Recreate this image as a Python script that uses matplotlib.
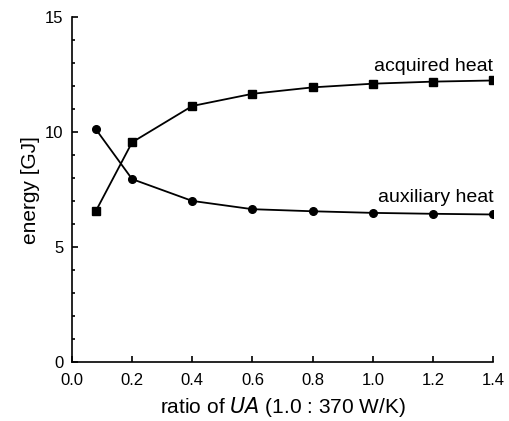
import numpy as np
import matplotlib
matplotlib.use("Agg")
import matplotlib.pyplot as plt
from matplotlib.ticker import MultipleLocator

plt.rcParams['font.family'] = ['Liberation Sans', 'DejaVu Sans']
plt.rcParams['xtick.direction'] = 'in'
plt.rcParams['ytick.direction'] = 'in'

# data
ua_ratio = [0.08, 0.2, 0.4, 0.6, 0.8, 1.0, 1.2, 1.4]
acquired_heat = [6.58, 9.56, 11.14, 11.67, 11.95, 12.11, 12.20, 12.25]
auxiliary_heat = [10.12, 7.96, 7.01, 6.65, 6.56, 6.49, 6.45, 6.42]

fig = plt.figure(figsize=(5.10, 4.21), dpi=100)
ax = fig.add_axes([0.141, 0.140, 0.826, 0.819])

ax.plot(ua_ratio, acquired_heat, color="black", linewidth=1.3,
        marker="s", markersize=5.5)
ax.plot(ua_ratio, auxiliary_heat, color="black", linewidth=1.3,
        marker="o", markersize=5.5)

ax.text(1.4, 12.5, "acquired heat", ha="right", va="bottom", fontsize=14)
ax.text(1.4, 6.8, "auxiliary heat", ha="right", va="bottom", fontsize=14)

ax.set_xlim(0.0, 1.4)
ax.set_ylim(0, 15)
ax.xaxis.set_major_locator(MultipleLocator(0.2))
ax.yaxis.set_major_locator(MultipleLocator(5))
ax.yaxis.set_minor_locator(MultipleLocator(1))
ax.tick_params(which="major", length=4, width=1.2, labelsize=12)
ax.tick_params(which="minor", length=2.5, width=1.2)
ax.tick_params(axis="x", pad=8)
ax.tick_params(axis="y", pad=6)

for s in ["top", "right"]:
    ax.spines[s].set_visible(False)
for s in ["left", "bottom"]:
    ax.spines[s].set_linewidth(1.2)

ax.set_xlabel("ratio of $\\it{UA}$ (1.0 : 370 W/K)", fontsize=15, labelpad=5)
ax.set_ylabel("energy [GJ]", fontsize=15, labelpad=4)

fig.savefig("out.png", dpi=100)
